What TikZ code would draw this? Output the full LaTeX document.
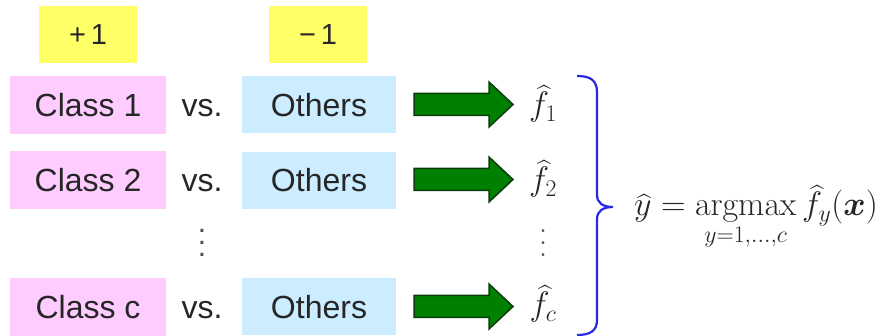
\RequirePackage{fix-cm}
\documentclass[tikz,border=0pt]{standalone}
\usepackage{amsmath}
\usepackage[no-math]{fontspec}
\newfontfamily\helv{Liberation Sans}
\newcommand\tallvdots{\vbox{\baselineskip=12pt\lineskiplimit=-20pt\hbox{.}\hbox{.}\hbox{.}}}
\definecolor{pinkbox}{RGB}{255,204,255}
\definecolor{bluebox}{RGB}{204,236,255}
\definecolor{yellowbox}{RGB}{255,255,102}
\definecolor{arrowgreen}{RGB}{0,128,0}
\definecolor{arrowedge}{RGB}{10,60,10}
\definecolor{bracecol}{RGB}{40,40,230}
\begin{document}
\begin{tikzpicture}[x=1pt,y=-1pt,
  lbl/.style={font=\helv\fontsize{32}{36}\selectfont, inner sep=0pt, text=black!85, text height=23pt, text depth=0pt},
  sgn/.style={lbl, font=\helv\fontsize{29}{33}\selectfont, fill=yellowbox, minimum width=98pt, minimum height=57pt, text height=21pt},
  classbox/.style={lbl, fill=pinkbox, minimum width=156pt, minimum height=58pt},
  otherbox/.style={lbl, fill=bluebox, minimum width=154pt, minimum height=57pt},
  mth/.style={font=\fontsize{34}{38}\selectfont, inner sep=0pt, text=black!85},
  dots/.style={inner sep=0pt, text=black!70},
  fat/.style={fill=arrowgreen, draw=arrowedge, line width=1.5pt, line join=miter}
]
\useasboundingbox (0,0) rectangle (881,336);

\node[sgn] (plus) at (88,34.5) {+\,1};
\node[sgn] (minus) at (318,34.5) {−\,1};

\node[classbox] (c1) at (88,105) {Class 1};
\node[lbl] (v1) at (202,105) {vs.};
\node[otherbox] (o1) at (319,105) {Others};

\node[classbox] (c2) at (88,180.5) {Class 2};
\node[lbl] (v2) at (202,180.5) {vs.};
\node[otherbox] (o2) at (319,180.5) {Others};

\node[dots, font=\helv\fontsize{30}{32}\selectfont] (vd1) at (202,243) {\tallvdots};

\node[classbox] (cc) at (88,307) {Class c};
\node[lbl] (vc) at (202,307) {vs.};
\node[otherbox] (oc) at (319,307) {Others};

\node[mth, anchor=base] (f1) at (543,116) {$\widehat{f}_1$};
\node[mth, anchor=base] (f2) at (543,191) {$\widehat{f}_2$};
\node[dots, font=\fontsize{34}{36}\selectfont] (vd2) at (543,243) {\tallvdots};
\node[mth, anchor=base] (fc) at (543,316) {$\widehat{f}_c$};

\foreach \r/\yy in {1/104.5, 2/179.5, c/306.5}{
  \coordinate (a\r) at (414,\yy);
  \draw[fat] (a\r) ++(0,-11) -- ++(75,0) -- ++(0,-11.5) -- ++(24,22.5) -- ++(-24,22.5) -- ++(0,-11.5) -- ++(-75,0) -- cycle;
}

\coordinate (btop) at (577,76);
\coordinate (btip) at (613,207);
\coordinate (bbot) at (577,335);
\draw[bracecol, line width=2.2pt] (btop) .. controls (590,76) and (597,80) .. (597,92) -- (597,195)
  .. controls (597,203) and (603,207) .. (btip)
  .. controls (603,207) and (597,211) .. (597,219) -- (597,320)
  .. controls (597,331) and (590,335) .. (bbot);

\node[mth, anchor=base west] (res) at (634,216) {$\widehat{y} = \operatorname*{argmax}\limits_{y=1,\ldots,c} \widehat{f}_y(\boldsymbol{x})$};
\end{tikzpicture}
\end{document}
